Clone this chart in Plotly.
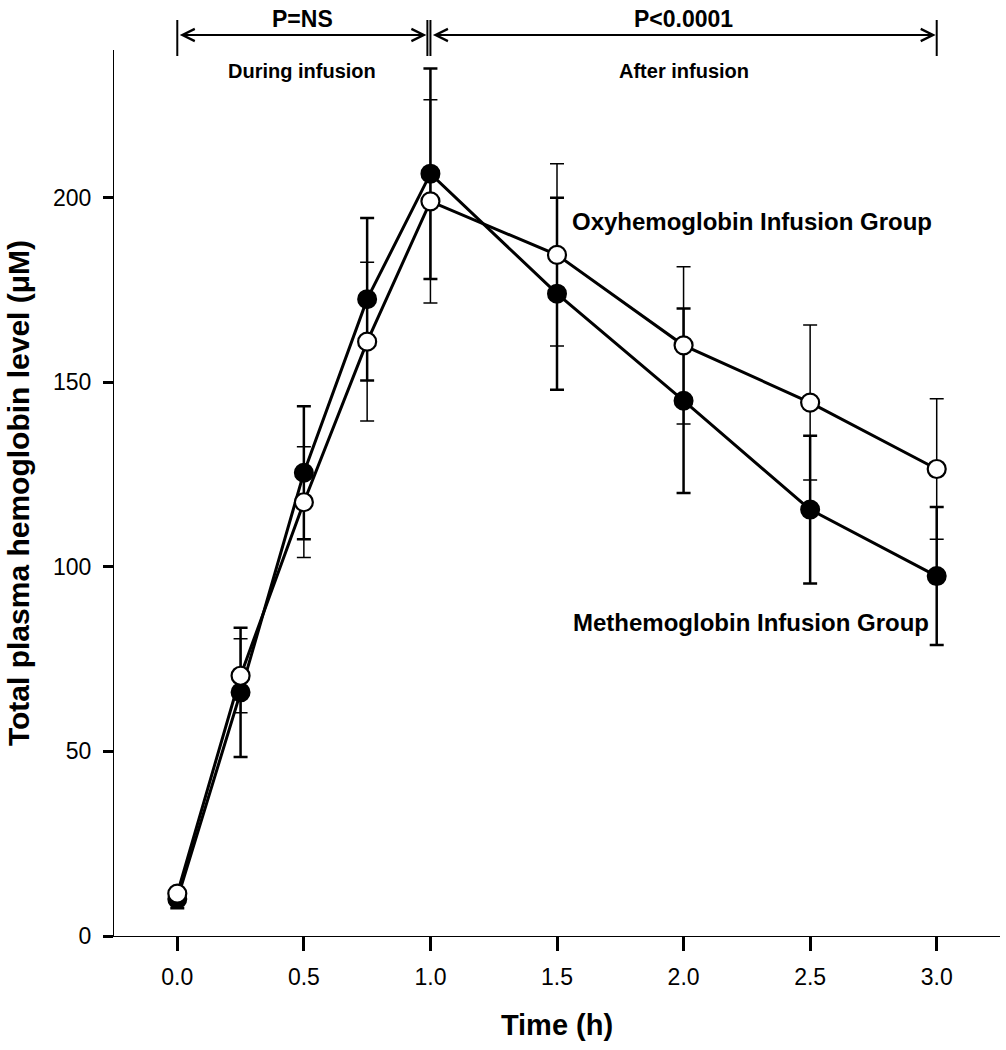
import plotly.graph_objects as go

# ---- data ----
times = [0.0, 0.25, 0.5, 0.75, 1.0, 1.5, 2.0, 2.5, 3.0]
methb_mean = [10, 66, 125.5, 172.5, 206.5, 174, 145, 115.5, 97.5]
methb_sd = [2.5, 17.5, 18, 22, 28.5, 26, 25, 20, 18.7]
oxyhb_mean = [11.5, 70.5, 117.5, 161, 199, 184.5, 160, 144.5, 126.5]
oxyhb_sd = [1.5, 10, 15, 21.5, 27.5, 24.7, 21.3, 21, 19]

x_ticks = [0.0, 0.5, 1.0, 1.5, 2.0, 2.5, 3.0]
x_ticktext = ["0.0", "0.5", "1.0", "1.5", "2.0", "2.5", "3.0"]
y_ticks = [0, 50, 100, 150, 200]

phase_edges = [0.0, 1.0, 3.0]
phase_pvals = ["P=NS", "P<0.0001"]
phase_names = ["During infusion", "After infusion"]

FONT = "Arial, Liberation Sans, Helvetica, sans-serif"

fig = go.Figure()

fig.add_trace(go.Scatter(
    x=times, y=methb_mean, mode="lines+markers",
    name="Methemoglobin Infusion Group",
    line=dict(color="black", width=3),
    marker=dict(symbol="circle", size=18, color="black",
                line=dict(color="black", width=2)),
    error_y=dict(type="data", array=methb_sd, visible=True,
                 color="black", thickness=2.5, width=7),
    showlegend=False, cliponaxis=False,
))
fig.add_trace(go.Scatter(
    x=times, y=oxyhb_mean, mode="lines+markers",
    name="Oxyhemoglobin Infusion Group",
    line=dict(color="black", width=3),
    marker=dict(symbol="circle", size=18, color="white",
                line=dict(color="black", width=2.2)),
    error_y=dict(type="data", array=oxyhb_sd, visible=True,
                 color="black", thickness=1.5, width=7),
    showlegend=False, cliponaxis=False,
))

# series labels
fig.add_annotation(x=3.0, y=193.5, xref="x", yref="y", xanchor="right",
                   yanchor="middle", showarrow=False, xshift=-3,
                   text="<b>Oxyhemoglobin Infusion Group</b>",
                   font=dict(family=FONT, size=24, color="black"))
fig.add_annotation(x=3.0, y=84.8, xref="x", yref="y", xanchor="right",
                   yanchor="middle", showarrow=False, xshift=-6,
                   text="<b>Methemoglobin Infusion Group</b>",
                   font=dict(family=FONT, size=24, color="black"))

# phase brackets above the plot (paper coords relative to plot area)
def py(px):
    return (936 - px) / 886.0

arrow_y = py(35)
bar_top = py(20)
bar_bot = py(56)
segments = [(phase_edges[0], phase_edges[1] - 0.012), (phase_edges[1], phase_edges[2])]
for (a, b), pv, nm in zip(segments, phase_pvals, phase_names):
    for xe in (a, b):
        fig.add_shape(type="line", xref="x", yref="paper", x0=xe, x1=xe,
                      y0=bar_bot, y1=bar_top, line=dict(color="black", width=2))
    fig.add_annotation(x=b, y=arrow_y, xref="x", yref="paper",
                       ax=a, axref="x", ay=0, ayref="pixel",
                       text="", showarrow=True, arrowside="end+start",
                       arrowhead=5, startarrowhead=5, arrowwidth=2.2,
                       arrowsize=1.1, startarrowsize=1.1,
                       standoff=1, startstandoff=1, arrowcolor="black")
    mid = (a + b) / 2
    fig.add_annotation(x=mid, y=py(19), xref="x", yref="paper",
                       showarrow=False, text="<b>" + pv + "</b>",
                       xanchor="center", yanchor="middle", borderpad=0,
                       font=dict(family=FONT, size=23, color="black"))
    fig.add_annotation(x=mid, y=py(71), xref="x", yref="paper",
                       showarrow=False, text="<b>" + nm + "</b>",
                       xanchor="center", yanchor="middle",
                       font=dict(family=FONT, size=20, color="black"))

# small extension of the x-axis line to the left of the y axis
fig.add_shape(type="line", xref="paper", yref="y", x0=-0.011, x1=0, y0=0, y1=0,
              line=dict(color="black", width=1.2))

fig.update_layout(
    width=1006, height=1050,
    margin=dict(l=114, r=6, t=50, b=114),
    paper_bgcolor="white", plot_bgcolor="white",
    font=dict(family=FONT, color="black"),
    showlegend=False,
)
fig.update_xaxes(
    range=[-0.25, 3.25], tickvals=x_ticks, ticktext=x_ticktext,
    showgrid=False, zeroline=False, showline=True, linecolor="black",
    linewidth=1.2, ticks="outside", ticklen=14, tickwidth=2.5,
    tickcolor="black", tickfont=dict(family=FONT, size=23, color="black"),
    ticklabelstandoff=6, automargin=False,
    title=dict(text="<b>Time (h)</b>", font=dict(family=FONT, size=29, color="black"),
               standoff=25),
)
fig.update_yaxes(
    range=[0, 240], tickvals=y_ticks,
    showgrid=False, zeroline=False, showline=True, linecolor="black",
    linewidth=1.2, ticks="outside", ticklen=10, tickwidth=2.5,
    tickcolor="black", tickfont=dict(family=FONT, size=23, color="black"),
    ticklabelstandoff=7, automargin=False,
    title=dict(text="<b>Total plasma hemoglobin level (\u03bcM)</b>",
               font=dict(family=FONT, size=30, color="black"), standoff=14),
)

fig.write_html("out.html", config={"displayModeBar": False},
               post_script="document.body.style.margin='0';")
